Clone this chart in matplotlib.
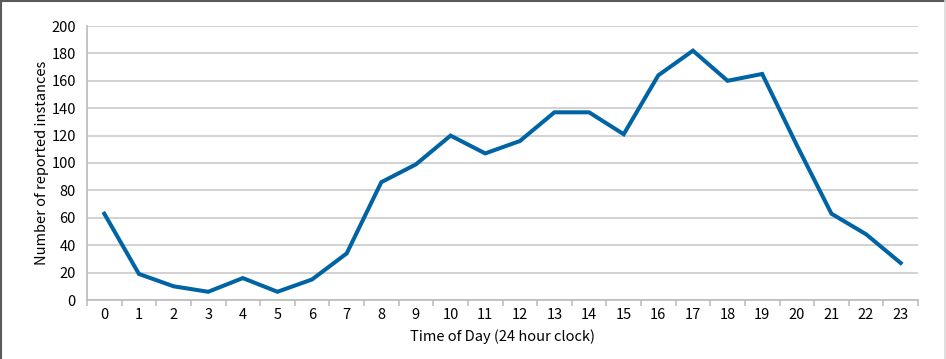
import numpy as np
import matplotlib.pyplot as plt
from matplotlib.lines import Line2D

plt.rcParams['font.family'] = ['Noto Sans CJK JP', 'DejaVu Sans']

hours = list(range(24))
counts = [63, 19, 10, 6, 16, 6, 15, 34, 86, 99, 120, 107, 116, 137,
          137, 121, 164, 182, 160, 165, 113, 63, 48, 27]
y_ticks = [0, 20, 40, 60, 80, 100, 120, 140, 160, 180, 200]

line_color = '#0063A3'
grid_color = '#C6C6C6'
axis_color = '#BFBFBF'

fig = plt.figure(figsize=(9.46, 3.59), dpi=100)
ax = fig.add_axes((87 / 946, 1 - 300 / 359, (918 - 87) / 946, (300 - 26) / 359))

ax.plot(hours, counts, color=line_color, linewidth=2.9, solid_joinstyle='miter', zorder=3)

ax.set_xlim(-0.5, 23.5)
ax.set_ylim(0, 200)
ax.set_yticks(y_ticks)
ax.set_yticklabels([str(v) for v in y_ticks], fontsize=10.5)
ax.set_xticks(hours)
ax.set_xticklabels([str(h) for h in hours], fontsize=10.5)
ax.set_xticks(np.arange(-0.5, 24, 1), minor=True)
ax.tick_params(axis='x', which='major', length=0, pad=6)
ax.tick_params(axis='x', which='minor', length=4, width=1.2, color=axis_color)
ax.tick_params(axis='y', length=0, pad=8)

ax.grid(axis='y', color=grid_color, linewidth=1.1, zorder=0)
for side in ('top', 'right'):
    ax.spines[side].set_visible(False)
for side in ('left', 'bottom'):
    ax.spines[side].set_color(axis_color)
    ax.spines[side].set_linewidth(1.3)

ax.set_xlabel('Time of Day (24 hour clock)', fontsize=10.5, labelpad=5)
ax.set_ylabel('Number of reported instances', fontsize=10.5, labelpad=1.5)

# outer frame: dark on top and left, faint on the right
fig.add_artist(Line2D([0.001, 0.001], [0, 1], transform=fig.transFigure,
                      color='#5A5A5A', linewidth=1.5))
fig.add_artist(Line2D([0, 1], [0.998, 0.998], transform=fig.transFigure,
                      color='#5A5A5A', linewidth=1.5))
fig.add_artist(Line2D([0.9985, 0.9985], [0, 1], transform=fig.transFigure,
                      color='#D9D9D9', linewidth=1.2))

fig.savefig('out.png', dpi=100)
plt.close(fig)
